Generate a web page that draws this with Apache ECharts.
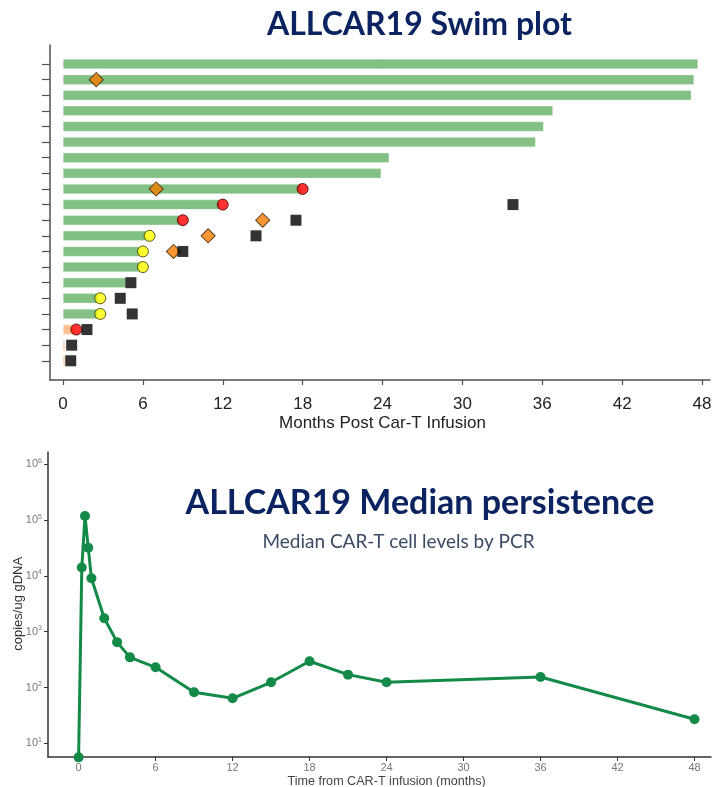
<!DOCTYPE html>
<html>
<head>
<meta charset="utf-8">
<script src="https://cdn.jsdelivr.net/npm/echarts@6/dist/echarts.min.js"></script>
<style>
  html, body { margin: 0; padding: 0; background: #fff; }
  #chart { width: 712px; height: 787px; }
</style>
</head>
<body>
<div id="chart"></div>
<script>
// ---------- Swim plot data (rows listed top to bottom) ----------
const patients = ['P1','P2','P3','P4','P5','P6','P7','P8','P9','P10',
                  'P11','P12','P13','P14','P15','P16','P17','P18','P19','P20'];
const followUpMonths = [47.7, 47.4, 47.2, 36.8, 36.1, 35.5, 24.5, 23.9, 17.9, 11.8,
                        8.8, 6.3, 5.8, 5.8, 4.75, 2.65, 2.65, 0.9, 0.15, 0.15];
const responseGroup = ['R','R','R','R','R','R','R','R','R','R',
                       'R','R','R','R','R','R','R','NR','NR','NR'];
// events: [month, patient]
const relapseEvents = [[2.5,'P2'], [7.0,'P9'], [15.0,'P11'], [10.9,'P12'], [8.3,'P13']];
const redEvents     = [[18.0,'P9'], [12.0,'P10'], [9.0,'P11'], [1.0,'P18']];
const yellowEvents  = [[6.5,'P12'], [6.0,'P13'], [6.0,'P14'], [2.8,'P16'], [2.8,'P17']];
const deathEvents   = [[33.8,'P10'], [17.5,'P11'], [14.5,'P12'], [9.0,'P13'], [5.1,'P15'],
                       [4.3,'P16'], [5.2,'P17'], [1.8,'P18'], [0.65,'P19'], [0.58,'P20']];
const swimXTicks = [0, 6, 12, 18, 24, 30, 36, 42, 48];

// ---------- Median persistence data ----------
const persistMonths = [0, 0.25, 0.5, 0.75, 1, 2, 3, 4, 6, 9, 12, 15, 18, 21, 24, 36, 48];
const persistCopies = [5.6, 14100, 118000, 32000, 9100, 1740, 650, 347, 230, 82, 64, 124, 295, 170, 124, 154, 27];
const persistYTickExponents = [1, 2, 3, 4, 5, 6];

const GREEN_BAR = '#82c084';
const PEACH_BAR = '#fdbf8f';
const NAVY = '#0b2461';
const AXIS_DARK = '#505050';
const LINE_GREEN = '#138a47';
const NARROW = 'Liberation Sans Narrow, Liberation Sans, Arial, sans-serif';

const chart = echarts.init(document.getElementById('chart'), null, { renderer: 'canvas' });

const barData = followUpMonths.map((v, i) => ({
  value: v,
  itemStyle: { color: responseGroup[i] === 'NR' ? PEACH_BAR : GREEN_BAR }
}));

const option = {
  animation: false,
  backgroundColor: '#ffffff',
  textStyle: { fontFamily: NARROW },
  graphic: [
    { type: 'text', x: 419.5, y: 25, style: { text: 'ALLCAR19 Swim plot', fill: NAVY,
      font: 'bold 32px Lato, "Open Sans", sans-serif', textAlign: 'center', textVerticalAlign: 'middle' } },
    { type: 'text', x: 420, y: 503, style: { text: 'ALLCAR19 Median persistence', fill: NAVY,
      font: 'bold 34px Lato, "Open Sans", sans-serif', textAlign: 'center', textVerticalAlign: 'middle' } },
    { type: 'text', x: 398.5, y: 542, style: { text: 'Median CAR-T cell levels by PCR', fill: '#3b4a63',
      font: '19px Lato, "Open Sans", sans-serif', textAlign: 'center', textVerticalAlign: 'middle' } }
  ],
  grid: [
    // 0: swim plot axis frame
    { left: 50, right: 2, top: 45, bottom: 787 - 380, outerBoundsMode: 'none', containLabel: false },
    // 1: swim plot data
    { left: 63, right: 712 - 702, top: 56.2, bottom: 787 - 368.6, outerBoundsMode: 'none', containLabel: false },
    // 2: persistence axis frame
    { left: 48, right: 1, top: 452, bottom: 787 - 757, outerBoundsMode: 'none', containLabel: false },
    // 3: persistence data
    { left: 78.6, right: 712 - 694.5, top: 464.3, bottom: 787 - 743.3, outerBoundsMode: 'none', containLabel: false }
  ],
  xAxis: [
    { gridIndex: 0, type: 'value', min: 0, max: 1,
      axisLine: { show: true, onZero: false, lineStyle: { color: AXIS_DARK, width: 1.5 } },
      axisTick: { show: false }, axisLabel: { show: false }, splitLine: { show: false } },
    { gridIndex: 1, type: 'value', min: 0, max: 48, interval: 6, position: 'bottom', offset: 11.4,
      axisLine: { show: false, onZero: false },
      axisTick: { show: true, length: 5, lineStyle: { color: AXIS_DARK, width: 1.2 } },
      axisLabel: { show: true, color: '#222', fontSize: 17, margin: 16, fontFamily: NARROW },
      splitLine: { show: false },
      name: 'Months Post Car-T Infusion', nameLocation: 'middle', nameGap: 35, nameMoveOverlap: false,
      nameTextStyle: { color: '#222', fontSize: 17, fontFamily: NARROW } },
    { gridIndex: 2, type: 'value', min: 0, max: 1,
      axisLine: { show: true, onZero: false, lineStyle: { color: '#333', width: 1.5 } },
      axisTick: { show: false }, axisLabel: { show: false }, splitLine: { show: false } },
    { gridIndex: 3, type: 'value', min: 0, max: 48, interval: 6, position: 'bottom', offset: 13.7,
      axisLine: { show: false, onZero: false },
      axisTick: { show: true, length: 4, lineStyle: { color: '#333', width: 1 } },
      axisLabel: { show: true, color: '#777', fontSize: 11, margin: 5, fontFamily: NARROW },
      splitLine: { show: false },
      name: 'Time from CAR-T infusion (months)', nameLocation: 'middle', nameGap: 18, nameMoveOverlap: false,
      nameTextStyle: { color: '#444', fontSize: 12.6, fontFamily: NARROW } }
  ],
  yAxis: [
    { gridIndex: 0, type: 'value', min: 0, max: 1,
      axisLine: { show: true, onZero: false, lineStyle: { color: AXIS_DARK, width: 1.5 } },
      axisTick: { show: false }, axisLabel: { show: false }, splitLine: { show: false } },
    { gridIndex: 1, type: 'category', data: patients, inverse: true, position: 'left', offset: 13,
      axisLine: { show: false, onZero: false },
      axisTick: { show: true, alignWithLabel: true, length: 8, lineStyle: { color: AXIS_DARK, width: 1.2 } },
      axisLabel: { show: false }, splitLine: { show: false } },
    { gridIndex: 2, type: 'value', min: 0, max: 1,
      axisLine: { show: true, onZero: false, lineStyle: { color: '#333', width: 1.5 } },
      axisTick: { show: false }, axisLabel: { show: false }, splitLine: { show: false } },
    { gridIndex: 3, type: 'log', logBase: 10, min: 10, max: 1e6, position: 'left', offset: 30.6,
      axisLine: { show: false, onZero: false },
      axisTick: { show: true, length: 4, lineStyle: { color: '#333' } },
      axisLabel: { show: true, margin: 6, color: '#777', fontSize: 11, fontFamily: NARROW,
        formatter: v => {
          const e = Math.round(Math.log10(v));
          return persistYTickExponents.includes(e) ? '10{sup|' + e + '}' : '';
        },
        rich: { sup: { fontSize: 7, color: '#777', verticalAlign: 'top', padding: [0, 0, 7, 0] } } },
      splitLine: { show: false },
      name: 'copies/ug gDNA', nameLocation: 'middle', nameRotate: 90, nameGap: 23, nameMoveOverlap: false,
      nameTextStyle: { color: '#333', fontSize: 13, fontFamily: 'Liberation Sans, Arial, sans-serif' } }
  ],
  series: [
    { name: 'Follow-up', type: 'bar', xAxisIndex: 1, yAxisIndex: 1, barWidth: 10,
      data: barData, itemStyle: { borderColor: 'rgba(255,255,255,0.6)', borderWidth: 0.5 }, z: 2 },
    { name: 'Relapse', type: 'scatter', xAxisIndex: 1, yAxisIndex: 1, data: relapseEvents,
      symbol: 'rect', symbolRotate: 45, symbolSize: 10,
      itemStyle: { color: '#f57c00', borderColor: '#3a2000', borderWidth: 1 }, z: 3 },
    { name: 'Event (red)', type: 'scatter', xAxisIndex: 1, yAxisIndex: 1, data: redEvents,
      symbol: 'circle', symbolSize: 11,
      itemStyle: { color: '#ff0000', borderColor: '#3a0000', borderWidth: 1 }, z: 4 },
    { name: 'Event (yellow)', type: 'scatter', xAxisIndex: 1, yAxisIndex: 1, data: yellowEvents,
      symbol: 'circle', symbolSize: 11,
      itemStyle: { color: '#ffff00', borderColor: '#333300', borderWidth: 1 }, z: 4 },
    { name: 'Death', type: 'scatter', xAxisIndex: 1, yAxisIndex: 1, data: deathEvents,
      symbol: 'rect', symbolSize: 11,
      itemStyle: { color: '#000000' }, z: 5 },
    { name: 'Median persistence', type: 'line', xAxisIndex: 3, yAxisIndex: 3, clip: false,
      data: persistMonths.map((m, i) => [m, persistCopies[i]]),
      symbol: 'circle', symbolSize: 10, showSymbol: true,
      lineStyle: { color: LINE_GREEN, width: 3 },
      itemStyle: { color: LINE_GREEN } }
  ]
};

chart.setOption(option);
</script>
</body>
</html>
